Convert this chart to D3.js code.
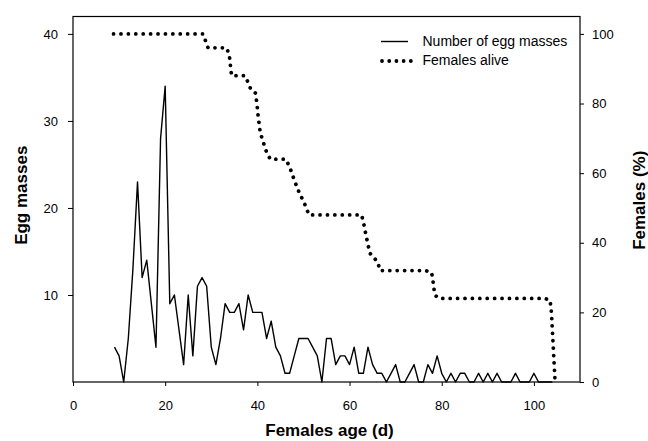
<!DOCTYPE html>
<html><head><meta charset="utf-8">
<script src="https://cdn.jsdelivr.net/npm/d3@7/dist/d3.min.js"></script>
<style>
body{margin:0;background:#fff}
svg{display:block}
text{font-family:"Liberation Sans",Arial,Helvetica,sans-serif;fill:#000}
</style>
</head><body>
<svg id="chart" width="648" height="441"></svg>
<script>
// ---- data ----
const eggDays = [9,10,11,12,13,14,15,16,17,18,19,20,21,22,23,24,25,26,27,28,29,30,31,32,33,34,35,36,37,38,39,40,41,42,43,44,45,46,47,48,49,50,51,52,53,54,55,56,57,58,59,60,61,62,63,64,65,66,67,68,69,70,71,72,73,74,75,76,77,78,79,80,81,82,83,84,85,86,87,88,89,90,91,92,93,94,95,96,97,98,99,100,101,102,103,104];
const eggMasses = [4,3,0,5,13,23,12,14,9,4,28,34,9,10,6,2,10,3,11,12,11,4,2,5,9,8,8,9,6,10,8,8,8,5,7,4,3,1,1,3,5,5,5,4,3,0,5,5,2,3,3,2,4,1,1,4,2,1,1,0,1,2,0,0,1,2,0,0,2,1,3,1,0,1,0,1,1,0,0,1,0,1,0,1,0,0,0,1,0,0,0,1,0,0,0,0];
const aliveDays = [8.8,28.2,29.3,33.3,33.9,34.4,37.3,38,38.6,39.6,39.9,40.2,40.6,41,41.5,42,42.8,46.2,46.9,47.5,48,48.6,49.2,50,51.2,62.6,63,63.6,64.4,65.2,66.2,66.6,76.5,77.8,78.1,78.5,79.4,102.3,103.5,103.8,104.2,104.6];
const alivePct  = [100,100,96,96,94,88,88,86,84,83,80,76,72,70,68,66,64,64,62,60,58,56,54,52,48,48,46,42,37,36,34,32,32,31.5,29,25,24,24,23.5,20,10,0];
const xTicks = [0,20,40,60,80,100];
const yLeftTicks = [10,20,30,40];
const yRightTicks = [0,20,40,60,80,100];
const legendLabels = ["Number of egg masses","Females alive"];
const xTitle = "Females age (d)";
const yLeftTitle = "Egg masses";
const yRightTitle = "Females (%)";

// ---- layout ----
const W = 648, H = 441;
const m = {left:73, right:68, top:16.5, bottom:59};
const pw = W - m.left - m.right, ph = H - m.top - m.bottom;
const svg = d3.select("#chart");
const g = svg.append("g").attr("transform",`translate(${m.left},${m.top})`);

const x = d3.scaleLinear().domain([0,110]).range([0,pw]);
const yL = d3.scaleLinear().domain([0,42]).range([ph,0]);
const yR = d3.scaleLinear().domain([0,105]).range([ph,0]);

// frame
g.append("rect").attr("x",0).attr("y",0).attr("width",pw).attr("height",ph)
  .attr("fill","none").attr("stroke","#000").attr("stroke-width",1.2);

const styleAxis = sel => {
  sel.select(".domain").remove();
  sel.selectAll(".tick line").attr("stroke","#000").attr("stroke-width",1);
  sel.selectAll(".tick text").style("font-size","13px").attr("fill","#000");
};

g.append("g").attr("transform",`translate(0,${ph})`)
  .call(d3.axisBottom(x).tickValues(xTicks).tickSize(4).tickPadding(15))
  .call(styleAxis);
g.append("g")
  .call(d3.axisLeft(yL).tickValues(yLeftTicks).tickSize(5).tickPadding(10))
  .call(styleAxis);
g.append("g").attr("transform",`translate(${pw},0)`)
  .call(d3.axisRight(yR).tickValues(yRightTicks).tickSize(4).tickPadding(8))
  .call(styleAxis);

// egg line
const eggData = eggDays.map((d,i)=>({x:d,y:eggMasses[i]}));
g.append("path").datum(eggData)
  .attr("fill","none").attr("stroke","#000").attr("stroke-width",1.4)
  .attr("stroke-linejoin","round")
  .attr("d", d3.line().x(d=>x(d.x)).y(d=>yL(d.y)));

// alive dotted line
const aliveData = aliveDays.map((d,i)=>({x:d,y:alivePct[i]}));
g.append("path").datum(aliveData)
  .attr("fill","none").attr("stroke","#000").attr("stroke-width",3.8)
  .attr("stroke-linecap","round").attr("stroke-dasharray","0.01 7.4")
  .attr("d", d3.line().x(d=>x(d.x)).y(d=>yR(d.y)));

// legend
const lg = svg.append("g");
lg.append("line").attr("x1",381).attr("x2",408).attr("y1",41.5).attr("y2",41.5)
  .attr("stroke","#000").attr("stroke-width",1.4);
lg.append("line").attr("x1",382).attr("x2",411).attr("y1",61).attr("y2",61)
  .attr("stroke","#000").attr("stroke-width",3.8)
  .attr("stroke-linecap","round").attr("stroke-dasharray","0.01 7.2");
lg.selectAll("text.lab").data(legendLabels).enter().append("text")
  .attr("class","lab").attr("x",422.5).attr("y",(d,i)=>46+i*19)
  .style("font-size","14px").text(d=>d);

// titles
svg.append("text").attr("x", m.left + pw/2 + 3).attr("y", 436)
  .attr("text-anchor","middle").style("font-size","17px").style("font-weight","bold").text(xTitle);
svg.append("text").attr("transform",`translate(27,${m.top+ph/2-4}) rotate(-90)`)
  .attr("text-anchor","middle").style("font-size","17px").style("font-weight","bold").text(yLeftTitle);
svg.append("text").attr("transform",`translate(645,${m.top+ph/2+1}) rotate(-90)`)
  .attr("text-anchor","middle").style("font-size","17px").style("font-weight","bold").text(yRightTitle);
</script>
</body></html>
